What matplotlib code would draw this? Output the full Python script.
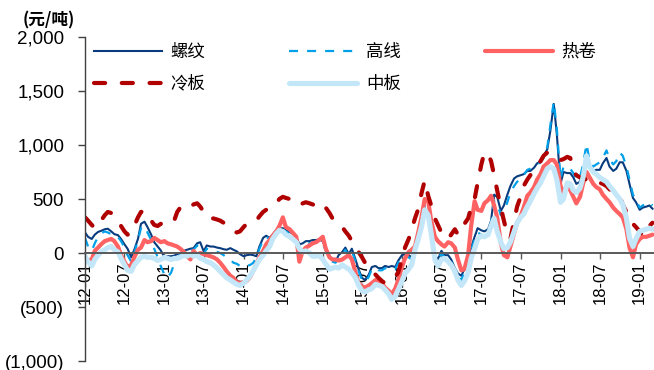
import numpy as np
import pandas as pd
import matplotlib
matplotlib.use("Agg")
import matplotlib.pyplot as plt
import matplotlib.dates as mdates
from matplotlib.ticker import FuncFormatter

plt.rcParams['font.family'] = ['Liberation Sans', 'Noto Sans CJK SC', 'DejaVu Sans']
plt.rcParams['lines.scale_dashes'] = False

# semi-monthly observations, 2012-01 .. 2019-03 (yuan/ton)
dates = pd.date_range("2012-01-01", "2019-03-01", freq="SMS")

rebar = [
    190, 150, 130, 170, 195, 205, 220, 225, 200, 175, 165, 130,
    80, 40, -40, 30, 130, 270, 290, 240, 170, 100, 60, 25,
    -40, -30, -30, -25, -10, 0, 20, 30, 40, 45, 90, 100,
    15, 70, 60, 60, 50, 45, 35, 30, 45, 30, 15, -10,
    -30, -20, -15, -20, -30, 60, 140, 160, 140, 170, 215, 225,
    230, 215, 195, 180, 150, 80, 90, 110, 110, 120, 120, 125,
    110, 40, -40, -60, -80, -20, 10, 50, -10, 40, -60, -150,
    -230, -250, -200, -130, -120, -140, -140, -120, -130, -120, -130, -70,
    -20, -10, -20, -40, 40, 120, 290, 420, 350, 150, -20, -60,
    20, -20, -20, -60, -140, -190, -210, -150, -50, 50, 150, 230,
    210, 200, 220, 300, 540, 520, 390, 440, 540, 620, 690, 710,
    720, 730, 760, 760, 790, 830, 850, 900, 960, 1130, 1380, 1100,
    640, 750, 740, 740, 700, 640, 660, 750, 900, 800, 760, 770,
    770, 830, 880, 800, 760, 780, 840, 840, 760, 640, 510, 470,
    400, 420, 430, 440, 410,
]

wire_rod = [
    140, 60, 20, 90, 150, 180, 200, 190, 175, 160, 150, 110,
    50, -20, -80, 0, 120, 230, 250, 190, 120, 40, -40, -120,
    -200, -230, -180, -100, -40, -20, 10, 20, 30, 30, 70, 60,
    -10, 40, 30, 20, 10, 0, -20, -40, -60, -90, -100, -120,
    -130, -120, -110, -90, -40, 40, 120, 150, 130, 160, 200, 210,
    210, 200, 180, 160, 130, 60, 70, 90, 90, 100, 100, 110,
    90, 20, -60, -80, -90, -40, -10, 30, -30, 20, -80, -170,
    -250, -270, -220, -150, -140, -160, -160, -140, -150, -140, -150, -90,
    -40, -30, -40, -60, 20, 100, 270, 440, 370, 150, -40, -80,
    0, -40, -40, -80, -160, -220, -250, -180, -70, 30, 120, 190,
    170, 160, 180, 270, 480, 460, 350, 380, 470, 560, 620, 660,
    680, 720, 770, 780, 800, 820, 840, 880, 980, 1180, 1400, 1150,
    690, 800, 790, 780, 740, 680, 700, 820, 1010, 850, 800, 820,
    840, 880, 950, 870, 820, 850, 930, 900, 800, 680, 540, 490,
    420, 440, 460, 470, 440,
]

hot_coil = [
    -50, -70, -60, 20, 50, 80, 110, 120, 130, 110, 60, -20,
    -80, -130, -110, -40, 30, 50, 120, 100, 110, 140, 120, 100,
    110, 90, 80, 70, 60, 40, 10, -30, -60, 20, -20, 0,
    -10, -20, -30, -40, -60, -90, -130, -170, -210, -230, -270, -280,
    -270, -260, -220, -160, -100, -40, 20, 80, 120, 160, 200, 250,
    330, 240, 220, 190, 150, -80, 20, 50, 70, 90, 100, 120,
    150, 40, -40, -60, -60, -70, -60, -40, -20, -60, -180, -280,
    -310, -320, -300, -280, -250, -260, -280, -320, -350, -380, -330, -250,
    -130, -50, 10, 30, 60, 180, 340, 500, 480, 300, 150, 110,
    80, 60, 100, 90, 50, -60, -160, -150, -20, 250, 480, 400,
    390, 460, 490, 530, 440, 330, 90, -20, -40, 60, 180, 280,
    340, 420, 530, 560, 610, 680, 730, 800, 830, 860, 860, 820,
    620, 560, 620, 580, 520, 460, 520, 640, 750, 700, 640, 610,
    590, 540, 500, 470, 420, 390, 360, 330, 220, 50, -40, 80,
    130, 150, 150, 160, 170,
]

cold_plate = [
    330, 300, 260, 230, 250, 300, 350, 380, 370, 330, 280, 250,
    200, 170, 180, 250, 330, 380, 390, 350, 300, 260, 250, 270,
    270, 265, 270, 300, 380, 420, 440, 430, 420, 450, 460, 430,
    380, 330, 320, 320, 310, 300, 280, 250, 220, 200, 190, 200,
    240, 270, 290, 290, 300, 340, 380, 400, 410, 430, 460, 500,
    520, 510, 500, 480, 450, 440, 460, 470, 460, 450, 440, 460,
    460, 420, 370, 320, 290, 260, 240, 200, 160, 110, 70, 10,
    -40, -90, -130, -170, -200, -230, -260, -280, -260, -240, -220, -180,
    -60, 50, 130, 220, 320, 400, 560, 670, 530, 440, 320, 260,
    190, 160, 130, 170, 220, 170, 200, 270, 320, 420, 500, 650,
    820, 930, 920, 850, 720, 580, 420, 300, 170, 130, 300, 430,
    520, 620, 680, 720, 770, 810, 850, 900, 930, 920, 900, 870,
    860, 870, 890, 880, 760, 720, 700, 690, 680, 690, 680, 660,
    650, 640, 620, 590, 560, 530, 520, 450, 380, 300, 270, 240,
    200, 160, 180, 250, 280,
]

medium_plate = [
    -30, -80, -120, -60, -20, 10, 30, 50, 60, 30, 10, -50,
    -110, -160, -170, -110, -70, -40, -30, -40, -40, -50, -70, -60,
    -40, -50, -60, -50, -50, -40, -20, -30, -10, -30, -20, -50,
    -60, -80, -90, -110, -140, -170, -200, -230, -250, -270, -290, -300,
    -280, -250, -210, -160, -110, -60, -20, 20, 60, 130, 180, 210,
    200, 170, 150, 130, 100, 40, 10, 20, 0, -30, -30, -20,
    -60, -100, -150, -140, -130, -140, -110, -130, -150, -180, -230, -300,
    -350, -360, -340, -330, -290, -300, -310, -340, -380, -430, -400, -340,
    -260, -190, -150, -110, 30, 120, 250, 400, 350, 180, -60, -120,
    -60, -50, -80, -110, -170, -250, -300, -260, -180, -50, 40, 130,
    160, 150, 170, 250, 320, 200, 100, 40, 50, 100, 200, 280,
    330, 360, 430, 480, 550, 600, 650, 710, 780, 800, 780, 680,
    470, 500, 650, 640, 580, 560, 600, 700, 900, 800, 750, 730,
    700, 680, 660, 620, 580, 540, 500, 450, 320, 140, 60, 130,
    200, 210, 220, 230, 220,
]

fig = plt.figure(figsize=(6.54, 3.70), dpi=100)
ax = fig.add_axes([0.13, 0.0243, 0.87, 0.8757])

l_rebar, = ax.plot(dates, rebar, color="#083c7e", lw=1.5, label="螺纹")
l_wire, = ax.plot(dates, wire_rod, color="#00a0e9", lw=1.6, dashes=(6.5, 6.5), label="高线")
l_hot, = ax.plot(dates, hot_coil, color="#ff6262", lw=3.0, label="热卷",
                 solid_capstyle="round")
l_cold, = ax.plot(dates, cold_plate, color="#b00000", lw=3.0, dashes=(8, 12),
                  dash_capstyle="round", label="冷板")
l_mid, = ax.plot(dates, medium_plate, color="#c3e7f8", lw=3.7, label="中板",
                 solid_capstyle="round")

ax.set_ylim(-1000, 2000)
ax.set_yticks(np.arange(-1000, 2001, 500))


def money(v, pos):
    if v < 0:
        return "({:,.0f})".format(-v)
    return "{:,.0f}".format(v)


ax.yaxis.set_major_formatter(FuncFormatter(money))
ax.set_xlim(pd.Timestamp("2012-01-01"), pd.Timestamp("2019-03-08"))
ax.xaxis.set_major_locator(mdates.MonthLocator(bymonth=[1, 7]))
ax.xaxis.set_major_formatter(mdates.DateFormatter("%y-%m"))

ax.spines["top"].set_visible(False)
ax.spines["right"].set_visible(False)
ax.spines["bottom"].set_position(("data", 0))
ax.spines["bottom"].set_color("#595959")
ax.spines["bottom"].set_linewidth(1.4)
ax.spines["left"].set_color("#404040")
ax.spines["left"].set_linewidth(1.0)

ax.tick_params(axis="y", direction="out", length=5, width=1.0, color="#404040",
               labelsize=13.5, pad=10)
ax.tick_params(axis="x", direction="out", length=4, width=1.0, color="#595959",
               labelsize=12, pad=2, labelrotation=90)

handles = [l_rebar, l_cold, l_wire, l_mid, l_hot]
ax.legend(handles=handles, labels=[h.get_label() for h in handles],
          ncol=3, loc="upper left", bbox_to_anchor=(0.016, 0.982),
          frameon=False, borderpad=0, borderaxespad=0,
          handlelength=3.9, handletextpad=0.5, columnspacing=4.85,
          labelspacing=0.8, prop={"family": ["Noto Sans CJK SC"], "size": 12.5})

fig.text(23 / 654, 1 - 11 / 370, "(元/吨)", ha="left", va="top", fontsize=12,
         fontweight="bold", family=["Noto Sans CJK SC", "DejaVu Sans"])

fig.savefig("out.png", dpi=100)
